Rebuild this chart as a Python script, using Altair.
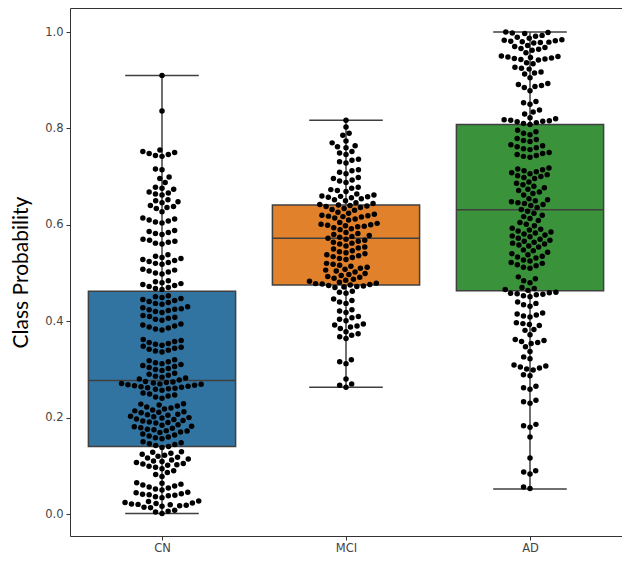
import math
import json
import altair as alt
import pandas as pd

categories = ["CN", "MCI", "AD"]

cn_values = [
    0.910, 0.836,
    0.755, 0.752, 0.750, 0.748, 0.746, 0.744, 0.742,
    0.716, 0.714, 0.699, 0.696, 0.688,
    0.678, 0.676, 0.674, 0.668, 0.666, 0.664, 0.662,
    0.652, 0.650, 0.648, 0.646, 0.640, 0.638, 0.636, 0.634, 0.627,
    0.614, 0.612, 0.610, 0.608, 0.606, 0.604,
    0.588, 0.586, 0.584, 0.582, 0.580,
    0.570, 0.568, 0.566, 0.564, 0.562, 0.560,
    0.538, 0.535, 0.532, 0.530, 0.528, 0.526, 0.524, 0.522, 0.520, 0.518,
    0.508, 0.506, 0.504, 0.502, 0.500, 0.498,
    0.484, 0.482, 0.480, 0.478, 0.476, 0.474, 0.472, 0.470, 0.468, 0.466,
    0.453, 0.451, 0.449, 0.447, 0.445, 0.443, 0.441, 0.439, 0.437, 0.435,
    0.430, 0.428, 0.426, 0.425, 0.424, 0.422, 0.420, 0.418,
    0.412, 0.410, 0.408, 0.406, 0.404, 0.402,
    0.394, 0.392, 0.390, 0.388, 0.386, 0.384, 0.382,
    0.362, 0.360, 0.358, 0.356, 0.354, 0.352, 0.350, 0.348, 0.346, 0.344,
    0.342, 0.340, 0.338, 0.336,
    0.320, 0.318, 0.316, 0.314, 0.312, 0.310, 0.308, 0.306, 0.304, 0.302,
    0.300, 0.298,
    0.292, 0.290, 0.288, 0.286, 0.284, 0.282, 0.280, 0.278,
    0.275, 0.274, 0.273, 0.272, 0.271, 0.270, 0.269, 0.268, 0.267, 0.266,
    0.265, 0.264, 0.263, 0.262, 0.261, 0.260, 0.259, 0.257,
    0.251, 0.249, 0.247, 0.245, 0.243, 0.240,
    0.229, 0.228, 0.226, 0.224, 0.222, 0.220, 0.218, 0.216, 0.214, 0.212,
    0.211, 0.210,
    0.207, 0.206, 0.205, 0.203, 0.202, 0.200, 0.199, 0.197, 0.196, 0.194,
    0.193, 0.191, 0.190, 0.189,
    0.185, 0.184, 0.182, 0.181, 0.179, 0.178, 0.176, 0.175, 0.173, 0.172,
    0.170, 0.169,
    0.166, 0.164, 0.162, 0.160, 0.158, 0.156,
    0.150, 0.148, 0.146, 0.144, 0.142, 0.140, 0.138,
    0.129, 0.128, 0.126, 0.124, 0.122, 0.120, 0.118, 0.116, 0.114, 0.112,
    0.110, 0.109,
    0.107, 0.105, 0.104, 0.102, 0.101, 0.099, 0.097,
    0.094, 0.090, 0.086, 0.082, 0.078,
    0.065, 0.064, 0.062, 0.060, 0.058, 0.056, 0.054, 0.052, 0.050,
    0.045, 0.044, 0.042, 0.041, 0.040, 0.039, 0.038, 0.036, 0.034,
    0.027, 0.026, 0.024, 0.023, 0.022, 0.021, 0.020, 0.019, 0.018, 0.017,
    0.016, 0.014, 0.013,
    0.008, 0.006, 0.004, 0.001,
]

mci_values = [
    0.817, 0.803, 0.790, 0.786, 0.774, 0.770,
    0.764, 0.762, 0.760, 0.752, 0.749, 0.746,
    0.736, 0.734, 0.731, 0.728, 0.714, 0.712, 0.709, 0.706,
    0.698, 0.696, 0.693, 0.691, 0.688,
    0.678, 0.676, 0.673, 0.671, 0.669,
    0.664, 0.662, 0.660, 0.659, 0.658, 0.657, 0.656, 0.654, 0.652, 0.650,
    0.646, 0.644, 0.642, 0.641, 0.640, 0.639, 0.638, 0.636, 0.634, 0.632, 0.630,
    0.626, 0.624, 0.622, 0.620, 0.619, 0.618, 0.617, 0.616, 0.614, 0.612, 0.610,
    0.605, 0.603, 0.601, 0.600, 0.599, 0.598, 0.597, 0.596, 0.594, 0.592, 0.590,
    0.584, 0.582, 0.580, 0.578, 0.576, 0.574, 0.572, 0.570, 0.568, 0.566,
    0.564, 0.562, 0.560, 0.556, 0.554, 0.552, 0.550,
    0.546, 0.544, 0.542, 0.540, 0.538, 0.536, 0.534, 0.532, 0.530, 0.528,
    0.520, 0.518, 0.516, 0.514, 0.512, 0.510, 0.508, 0.506, 0.504, 0.502,
    0.499, 0.497, 0.495, 0.493, 0.491, 0.489, 0.487, 0.485, 0.483, 0.481,
    0.479, 0.478,
    0.477, 0.476, 0.475, 0.474, 0.473, 0.472, 0.471, 0.470,
    0.462, 0.460, 0.458, 0.446, 0.443, 0.440, 0.437,
    0.424, 0.421, 0.418, 0.410, 0.407, 0.404, 0.401,
    0.394, 0.392, 0.390, 0.388, 0.385,
    0.378, 0.374, 0.371, 0.368, 0.364,
    0.320, 0.316, 0.312, 0.280, 0.270, 0.267, 0.263,
]

ad_values = [
    1.000, 0.999, 0.998, 0.997, 0.993, 0.991, 0.989, 0.987,
    0.984, 0.983, 0.982, 0.981, 0.980, 0.979, 0.978, 0.977,
    0.972, 0.970, 0.968, 0.966, 0.964, 0.962, 0.957,
    0.950, 0.949, 0.948, 0.947, 0.946, 0.945, 0.944, 0.943, 0.942,
    0.936, 0.934, 0.927, 0.925, 0.923, 0.917, 0.915, 0.913, 0.905,
    0.893, 0.891, 0.889, 0.887, 0.885, 0.878,
    0.856, 0.853, 0.850, 0.838, 0.834, 0.830,
    0.822, 0.820, 0.818, 0.817, 0.816, 0.815, 0.814, 0.812, 0.810, 0.808,
    0.796, 0.793, 0.790, 0.787, 0.779, 0.777, 0.775, 0.773,
    0.766, 0.764, 0.762, 0.760, 0.758, 0.756,
    0.750, 0.748, 0.746, 0.744, 0.742, 0.740,
    0.718, 0.716, 0.714, 0.712, 0.710, 0.708, 0.706, 0.704, 0.702, 0.700,
    0.698, 0.696,
    0.689, 0.686, 0.683, 0.680, 0.677, 0.674, 0.671, 0.668, 0.665, 0.662,
    0.654, 0.652, 0.650, 0.648, 0.646, 0.644, 0.642, 0.640,
    0.636, 0.632, 0.628, 0.624, 0.620, 0.617,
    0.613, 0.609, 0.605, 0.601, 0.598,
    0.593, 0.591, 0.589, 0.587, 0.585, 0.583, 0.581, 0.579, 0.577, 0.575,
    0.572, 0.570, 0.568, 0.566, 0.564, 0.562, 0.560, 0.558, 0.556, 0.554,
    0.548, 0.546, 0.543, 0.540, 0.538, 0.535, 0.533, 0.531,
    0.527, 0.525, 0.522, 0.520, 0.517, 0.515, 0.512, 0.510,
    0.492, 0.488, 0.484, 0.480, 0.470, 0.468, 0.466, 0.464,
    0.460, 0.459, 0.458, 0.457, 0.456, 0.455, 0.453, 0.451,
    0.440, 0.437, 0.434, 0.431, 0.417, 0.415, 0.413, 0.411, 0.409,
    0.397, 0.395, 0.393, 0.391, 0.383, 0.381, 0.372,
    0.362, 0.360, 0.358, 0.356, 0.354, 0.347, 0.337, 0.326, 0.322,
    0.309, 0.307, 0.305, 0.303, 0.301, 0.299, 0.289, 0.287,
    0.265, 0.262, 0.259, 0.236, 0.233, 0.230,
    0.186, 0.183, 0.180, 0.160, 0.116, 0.090, 0.087, 0.083, 0.056, 0.053,
]

# box-plot summary
whisker_low = [0.001, 0.263, 0.052]
q1 = [0.140, 0.475, 0.463]
median = [0.277, 0.572, 0.631]
q3 = [0.462, 0.641, 0.808]
whisker_high = [0.910, 0.817, 1.000]

palette = ["#3274a1", "#e1812c", "#3a923a"]

W, H = 552, 528
YMIN, YMAX = -0.0456, 1.0498
XMIN, XMAX = -0.5, 2.5
DOT = 6.6
EDGE = "#3f3f3f"


def swarm(vals, diam, ypu):
    ys = [v * ypu for v in vals]
    order = sorted(range(len(vals)), key=lambda i: ys[i])
    placed = []
    xs = [0.0] * len(vals)
    for i in order:
        y = ys[i]
        nb = [(px, py) for px, py in placed if abs(py - y) < diam]
        cands = [0.0]
        for px, py in nb:
            dx = math.sqrt(max(diam ** 2 - (py - y) ** 2, 0.0))
            cands += [px + dx, px - dx]
        cands.sort(key=lambda c: (abs(c), c))
        for c in cands:
            if all((c - px) ** 2 + (y - py) ** 2 >= diam ** 2 - 1e-6 for px, py in nb):
                xs[i] = c
                break
        placed.append((xs[i], y))
    return xs


ypu = H / (YMAX - YMIN)
xpu = W / (XMAX - XMIN)

rows = []
for idx, (cat, vals) in enumerate(zip(categories, [cn_values, mci_values, ad_values])):
    offs = swarm(vals, DOT, ypu)
    for v, o in zip(vals, offs):
        rows.append({"cat": cat, "value": v, "px": idx + o / xpu})
pts_df = pd.DataFrame(rows)

box_df = pd.DataFrame({
    "cat": categories,
    "idx": list(range(len(categories))),
    "lo": whisker_low,
    "q1": q1,
    "med": median,
    "q3": q3,
    "hi": whisker_high,
})

x_scale = alt.Scale(domain=[XMIN, XMAX], nice=False, zero=False)
y_scale = alt.Scale(domain=[YMIN, YMAX], nice=False, zero=False)

label_expr = json.dumps(categories) + "[round(datum.value)]"

x_axis = alt.Axis(values=[0, 1, 2], labelExpr=label_expr, title="", grid=False,
                  domain=False, tickColor="#333333", tickSize=4,
                  labelFont="DejaVu Sans", labelFontSize=11.5, labelColor="#444444",
                  labelPadding=2)
y_axis = alt.Axis(values=[0, 0.2, 0.4, 0.6, 0.8, 1.0], format=".1f",
                  title="Class Probability", grid=False, domain=False,
                  tickColor="#333333", tickSize=4,
                  labelFont="DejaVu Sans", labelFontSize=11.5, labelColor="#444444",
                  labelPadding=3, titleFont="Lato", titleFontSize=21,
                  titleFontWeight="normal", titleColor="black", titlePadding=13)


def X(field):
    return alt.X(field, scale=x_scale, axis=x_axis, title="")


def Y(field):
    return alt.Y(field, scale=y_scale, axis=y_axis, title="Class Probability")


base = alt.Chart(box_df).transform_calculate(
    left="datum.idx - 0.4", right="datum.idx + 0.4",
    cl="datum.idx - 0.2", cr="datum.idx + 0.2",
)

boxes = base.mark_rect(stroke=EDGE, strokeWidth=1.5).encode(
    x=X("left:Q"), x2="right:Q",
    y=Y("q1:Q"), y2="q3:Q",
    color=alt.Color("cat:N", scale=alt.Scale(domain=categories, range=palette), legend=None),
)

whisk_lo = base.mark_rule(color=EDGE, strokeWidth=1.5).encode(
    x=X("idx:Q"), y=Y("lo:Q"), y2="q1:Q")
whisk_hi = base.mark_rule(color=EDGE, strokeWidth=1.5).encode(
    x=X("idx:Q"), y=Y("q3:Q"), y2="hi:Q")
cap_lo = base.mark_rule(color=EDGE, strokeWidth=1.5).encode(
    x=X("cl:Q"), x2="cr:Q", y=Y("lo:Q"))
cap_hi = base.mark_rule(color=EDGE, strokeWidth=1.5).encode(
    x=X("cl:Q"), x2="cr:Q", y=Y("hi:Q"))
med_line = base.mark_rule(color=EDGE, strokeWidth=1.5).encode(
    x=X("left:Q"), x2="right:Q", y=Y("med:Q"))

points = alt.Chart(pts_df).mark_circle(size=30, color="black", opacity=1).encode(
    x=X("px:Q"), y=Y("value:Q"),
)

chart = alt.layer(boxes, whisk_lo, whisk_hi, cap_lo, cap_hi, med_line, points).properties(
    width=W, height=H,
    autosize=alt.AutoSizeParams(type="none"),
    padding={"left": 62, "top": 0, "right": 0, "bottom": 21},
).configure_view(stroke="#333333", strokeWidth=1)

chart.save("out.html", embed_options={"renderer": "svg", "actions": False})
